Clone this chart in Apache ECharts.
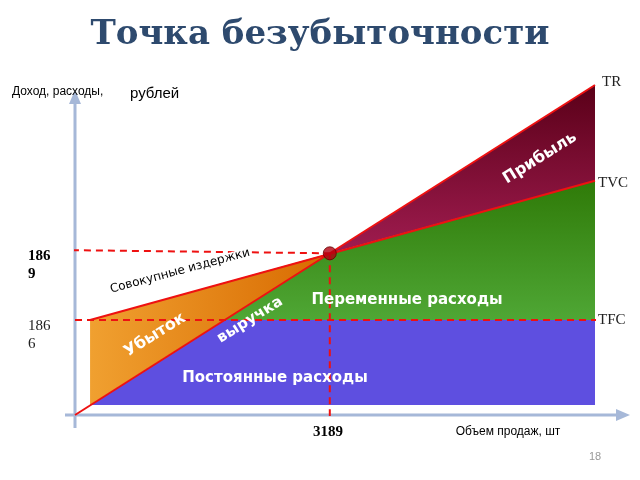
<!DOCTYPE html>
<html><head><meta charset="utf-8">
<script src="https://cdn.jsdelivr.net/npm/echarts@6/dist/echarts.min.js"></script>
<style>html,body{margin:0;background:#fff}#c{width:640px;height:480px}</style>
</head><body><div id="c"></div>
<script>
// data units: volume 0..100, money 0..100
var profitPts = [[49, 49], [100, 100], [100, 71]];
var variablePts = [[49, 49], [100, 71], [100, 28.8], [28.8, 28.8]];
var fixedPts = [[2.9, 3], [100, 3], [100, 28.8], [28.8, 28.8]];
var lossPts = [[2.9, 28.8], [49, 49], [2.9, 3]];
var trLine = [[0, 0], [100, 100]];
var tvcLine = [[2.9, 28.8], [100, 71]];
var breakEven = [49, 49];
var tfcLevel = 28.8;
var labelBE = '186\n9', labelFC = '186\n6', labelQ = '3189';

var chart = echarts.init(document.getElementById('c'));

function poly(pts, fill, z) {
  return {
    type: 'custom', coordinateSystem: 'cartesian2d', z: z, silent: true,
    data: [0],
    renderItem: function (p, api) {
      return { type: 'polygon', shape: { points: pts.map(function (d) { return api.coord(d); }) }, style: { fill: fill } };
    }
  };
}
function line(pts, color, dash, z) {
  return { type: 'line', data: pts, symbol: 'none', z: z, silent: true,
    lineStyle: { color: color, width: 2, type: dash ? [7, 5] : 'solid' } };
}
function txt(t, x, y, size, rot, extra) {
  var s = Object.assign({ text: t, fontSize: size, fill: '#fff', fontWeight: 'bold',
    fontFamily: 'DejaVu Sans', align: 'center', verticalAlign: 'middle' }, extra || {});
  return { type: 'text', x: x, y: y, rotation: (rot || 0) * Math.PI / 180, style: s, z: 100 };
}

chart.setOption({
  animation: false,
  grid: { left: 75, right: 45, top: 85, bottom: 65 },
  xAxis: { type: 'value', min: 0, max: 100, show: false },
  yAxis: { type: 'value', min: 0, max: 100, show: false },
  series: [
    poly(fixedPts, '#5e4fe0', 1),
    poly(variablePts, new echarts.graphic.LinearGradient(0, 0, 0, 1, [{ offset: 0, color: '#2f7a08' }, { offset: 1, color: '#4fa735' }]), 2),
    poly(profitPts, new echarts.graphic.LinearGradient(0, 0, 0, 1, [{ offset: 0, color: '#5a0018' }, { offset: 1, color: '#a01c50' }]), 2),
    poly(lossPts, new echarts.graphic.LinearGradient(0, 0, 1, 0, [{ offset: 0, color: '#f0a030' }, { offset: 1, color: '#d86a00' }]), 3),
    line(trLine, '#ee1111', false, 5),
    line(tvcLine, '#ee1111', false, 5),
    line([[-2.9, breakEven[1] + 1], breakEven], '#ee1111', true, 6),
    line([breakEven, [breakEven[0], -7.5]], '#ee1111', true, 6),
    line([[0, tfcLevel], [106, tfcLevel]], '#ee1111', true, 6),
    { type: 'scatter', data: [breakEven], symbolSize: 13, z: 7, silent: true,
      itemStyle: { color: '#b00010', borderColor: '#600', borderWidth: 1 } }
  ],
  graphic: [
    { type: 'line', shape: { x1: 75, y1: 100, x2: 75, y2: 428 }, style: { stroke: '#a6b8d8', lineWidth: 3 }, z: 0 },
    { type: 'line', shape: { x1: 65, y1: 415, x2: 622, y2: 415 }, style: { stroke: '#a6b8d8', lineWidth: 3 }, z: 0 },
    { type: 'polygon', shape: { points: [[75, 90], [69, 104], [81, 104]] }, style: { fill: '#a6b8d8' } },
    { type: 'polygon', shape: { points: [[630, 415], [616, 409], [616, 421]] }, style: { fill: '#a6b8d8' } },
    txt('Точка безубыточности', 320, 35, 34, 0, { fill: '#2e4a6e', fontFamily: 'DejaVu Serif' }),
    txt('Доход, расходы,', 12, 92, 12, 0, { fill: '#000', fontWeight: 'normal', align: 'left', fontFamily: 'Liberation Sans' }),
    txt('рублей', 130, 94, 15, 0, { fill: '#000', fontWeight: 'normal', align: 'left', fontFamily: 'Liberation Sans' }),
    txt('TR', 602, 82, 15, 0, { fill: '#222', fontWeight: 'normal', align: 'left', fontFamily: 'Liberation Serif' }),
    txt('TVC', 598, 183, 15, 0, { fill: '#222', fontWeight: 'normal', align: 'left', fontFamily: 'Liberation Serif' }),
    txt('TFC', 598, 320, 15, 0, { fill: '#222', fontWeight: 'normal', align: 'left', fontFamily: 'Liberation Serif' }),
    txt(labelBE, 28, 265, 15, 0, { fill: '#000', align: 'left', fontFamily: 'Liberation Serif', lineHeight: 18 }),
    txt(labelFC, 28, 335, 15, 0, { fill: '#222', fontWeight: 'normal', align: 'left', fontFamily: 'Liberation Serif', lineHeight: 18 }),
    txt(labelQ, 328, 432, 15, 0, { fill: '#000', fontFamily: 'Liberation Serif' }),
    txt('Объем продаж, шт', 508, 432, 12, 0, { fill: '#000', fontWeight: 'normal', fontFamily: 'Liberation Sans' }),
    txt('18', 595, 457, 11, 0, { fill: '#999', fontWeight: 'normal', fontFamily: 'Liberation Sans' }),
    txt('Прибыль', 540, 158, 16, 32),
    txt('Переменные расходы', 407, 300, 15, 0),
    txt('выручка', 250, 320, 15, 32),
    txt('Убыток', 155, 335, 16, 32),
    txt('Постоянные расходы', 275, 378, 15, 0),
    txt('Совокупные издержки', 180, 271, 12, 15, { fill: '#000', fontWeight: 'normal', stroke: '#fff', lineWidth: 3 })
  ]
});
</script></body></html>
